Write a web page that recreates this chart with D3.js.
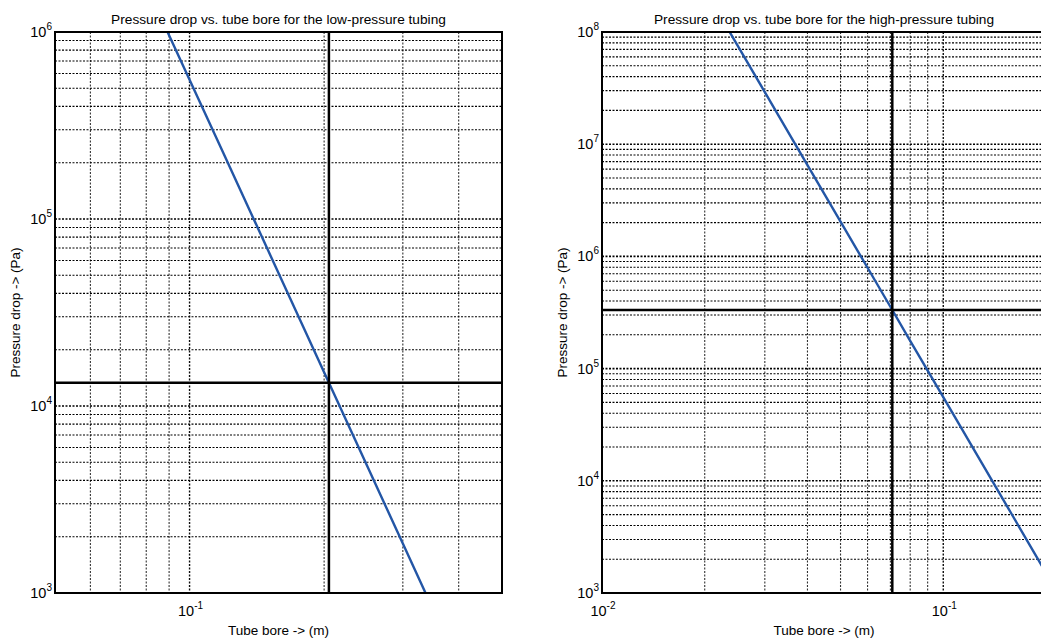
<!DOCTYPE html>
<html>
<head>
<meta charset="utf-8">
<script src="https://cdn.jsdelivr.net/npm/d3@7"></script>
<style>
  body { margin: 0; background: #fff; }
  svg { display: block; font-family: "Liberation Sans", Arial, sans-serif; }
</style>
</head>
<body>
<svg id="chart" width="1041" height="639"></svg>
<script>
// ---- data ----
const leftTitle = "Pressure drop vs. tube bore for the low-pressure tubing";
const rightTitle = "Pressure drop vs. tube bore for the high-pressure tubing";
const xLabel = "Tube bore -> (m)";
const yLabel = "Pressure drop -> (Pa)";

const leftBore = [0.085, 0.1, 0.12, 0.15, 0.18, 0.205, 0.25, 0.3, 0.35];
const leftPressure = [1.29e6, 5.56e5, 2.16e5, 6.76e4, 2.62e4, 1.33e4, 4745, 1838, 824];
const rightBore = [0.023, 0.03, 0.04, 0.05, 0.06, 0.0709, 0.08, 0.1, 0.13, 0.16, 0.2];
const rightPressure = [1.16e8, 2.91e7, 6.52e6, 2.04e6, 7.92e5, 3.33e5, 1.77e5, 5.56e4, 1.42e4, 4.83e3, 1.51e3];

const leftMarkBore = 0.205, leftMarkPressure = 1.33e4;
const rightMarkBore = 0.0709, rightMarkPressure = 3.33e5;

const leftXDomain = [0.05, 0.5], leftYDomain = [1e3, 1e6];
const rightXDomain = [0.01, 0.2], rightYDomain = [1e3, 1e8];

const leftXTicks = [0.1];
const rightXTicks = [0.01, 0.1];
const leftYTicks = [1e3, 1e4, 1e5, 1e6];
const rightYTicks = [1e3, 1e4, 1e5, 1e6, 1e7, 1e8];

// ---- drawing ----
const svg = d3.select("#chart");

function minorValues(domain) {
  const out = [];
  const lo = Math.floor(Math.log10(domain[0]) - 1e-9), hi = Math.ceil(Math.log10(domain[1]) + 1e-9);
  for (let e = lo; e <= hi; e++) {
    for (let m = 1; m <= 9; m++) {
      const v = m * Math.pow(10, e);
      if (v >= domain[0] * (1 - 1e-9) && v <= domain[1] * (1 + 1e-9)) out.push({v, major: m === 1});
    }
  }
  return out;
}

function expOf(v) { return Math.round(Math.log10(v)); }

function drawPanel(cfg) {
  const x = d3.scaleLog().domain(cfg.xDomain).range([cfg.left, cfg.right]);
  const y = d3.scaleLog().domain(cfg.yDomain).range([cfg.bottom, cfg.top]);
  const g = svg.append("g");
  const clipId = "clip" + cfg.id;
  svg.append("clipPath").attr("id", clipId).append("rect")
    .attr("x", cfg.left).attr("y", cfg.top)
    .attr("width", cfg.right - cfg.left).attr("height", cfg.bottom - cfg.top);

  // grid
  const grid = g.append("g");
  minorValues(cfg.xDomain).forEach(d => {
    grid.append("line")
      .attr("x1", x(d.v)).attr("x2", x(d.v)).attr("y1", cfg.top).attr("y2", cfg.bottom)
      .attr("stroke", "#000").attr("stroke-width", d.major ? 1.4 : 1.1)
      .attr("stroke-dasharray", "2,1.5").attr("opacity", d.major ? 0.95 : 0.8);
  });
  minorValues(cfg.yDomain).forEach(d => {
    grid.append("line")
      .attr("y1", y(d.v)).attr("y2", y(d.v)).attr("x1", cfg.left).attr("x2", cfg.right)
      .attr("stroke", "#000").attr("stroke-width", d.major ? 1.6 : 1.1)
      .attr("stroke-dasharray", "2,1.5").attr("opacity", 1);
  });

  // curve
  const pts = cfg.bore.map((b, i) => [b, cfg.pressure[i]]);
  g.append("path").datum(pts)
    .attr("clip-path", `url(#${clipId})`)
    .attr("d", d3.line().x(d => x(d[0])).y(d => y(d[1])))
    .attr("fill", "none").attr("stroke", "#2356a6").attr("stroke-width", 2.4);

  // crosshair lines
  g.append("line")
    .attr("x1", x(cfg.markBore)).attr("x2", x(cfg.markBore))
    .attr("y1", cfg.top).attr("y2", cfg.bottom)
    .attr("stroke", "#000").attr("stroke-width", 2.5);
  g.append("line")
    .attr("y1", y(cfg.markPressure)).attr("y2", y(cfg.markPressure))
    .attr("x1", cfg.left).attr("x2", cfg.right)
    .attr("stroke", "#000").attr("stroke-width", 2.5);

  // box
  g.append("rect")
    .attr("x", cfg.left).attr("y", cfg.top)
    .attr("width", cfg.right - cfg.left).attr("height", cfg.bottom - cfg.top)
    .attr("fill", "none").attr("stroke", "#000").attr("stroke-width", 2);

  // y tick labels
  cfg.yTicks.forEach(v => {
    const t = g.append("text")
      .attr("x", cfg.left - 3).attr("y", y(v) + 5)
      .attr("text-anchor", "end").attr("font-size", 14.5).attr("fill", "#000");
    t.append("tspan").text("10");
    t.append("tspan").attr("dy", -7).attr("font-size", 10).text(expOf(v));
  });

  // x tick labels
  cfg.xTicks.forEach(v => {
    const t = g.append("text")
      .attr("x", x(v) + 1).attr("y", cfg.bottom + 23)
      .attr("text-anchor", "middle").attr("font-size", 14.5).attr("fill", "#000");
    t.append("tspan").text("10");
    t.append("tspan").attr("dy", -7).attr("font-size", 10).text(expOf(v));
  });

  const cx = (cfg.left + cfg.right) / 2;
  g.append("text").attr("x", cx).attr("y", 24)
    .attr("text-anchor", "middle").attr("font-size", 13.7).text(cfg.title);
  g.append("text").attr("x", cx).attr("y", 635)
    .attr("text-anchor", "middle").attr("font-size", 13.5).text(xLabel);
  g.append("text")
    .attr("transform", `translate(${cfg.yLabelX},${(cfg.top + cfg.bottom) / 2}) rotate(-90)`)
    .attr("text-anchor", "middle").attr("font-size", 13.5).text(yLabel);
}

drawPanel({
  id: "L", left: 55, right: 502, top: 32, bottom: 593,
  xDomain: leftXDomain, yDomain: leftYDomain,
  bore: leftBore, pressure: leftPressure,
  markBore: leftMarkBore, markPressure: leftMarkPressure,
  xTicks: leftXTicks, yTicks: leftYTicks,
  title: leftTitle, yLabelX: 20
});
drawPanel({
  id: "R", left: 602, right: 1046, top: 32, bottom: 593,
  xDomain: rightXDomain, yDomain: rightYDomain,
  bore: rightBore, pressure: rightPressure,
  markBore: rightMarkBore, markPressure: rightMarkPressure,
  xTicks: rightXTicks, yTicks: rightYTicks,
  title: rightTitle, yLabelX: 567
});
</script>
</body>
</html>
